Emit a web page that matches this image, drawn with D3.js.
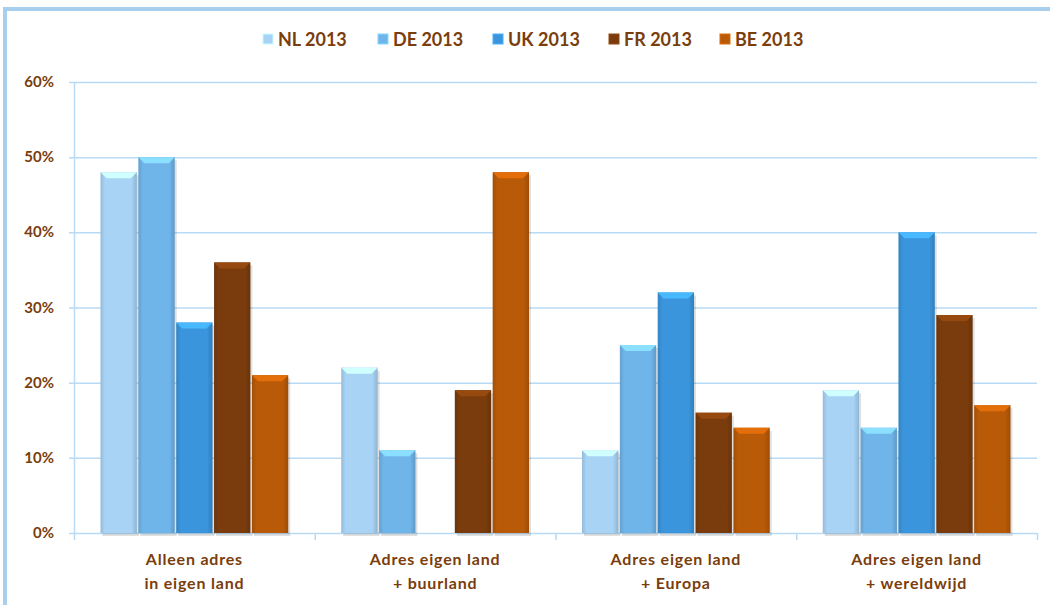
<!DOCTYPE html>
<html>
<head>
<meta charset="utf-8">
<script src="https://cdnjs.cloudflare.com/ajax/libs/d3/7.8.5/d3.min.js"></script>
<style>
	body { margin: 0; background: #fff; }
	text { font-family: Lato, "Open Sans", sans-serif; fill: #7a3d0c; }
	.tick-label { font-size: 15px; font-weight: bold; }
	.cat-label { font-size: 16px; font-weight: bold; letter-spacing: 0.8px; }
	.legend-label { font-size: 18px; font-weight: bold; }
</style>
</head>
<body>
<script>
// - data -

var categories = [
	['Alleen adres', 'in eigen land'],
	['Adres eigen land', '+ buurland'],
	['Adres eigen land', '+ Europa'],
	['Adres eigen land', '+ wereldwijd']
];
var seriesNames = ['NL 2013', 'DE 2013', 'UK 2013', 'FR 2013', 'BE 2013'];
var seriesColors = ['#a8d3f5', '#70b5ea', '#3a95dc', '#7a3c0c', '#b85a08'];

var nl = [48, 22, 11, 19];
var de = [50, 11, 25, 14];
var uk = [28, 0, 32, 40];
var fr = [36, 19, 16, 29];
var be = [21, 48, 14, 17];
var yTicks = [0, 10, 20, 30, 40, 50, 60];

var seriesValues = [nl, de, uk, fr, be];

// - setup -

var width = 1050;
var height = 605;

var margin = { top: 82, left: 74, bottom: 72, right: 13 };

var svg = d3.select('body').append('svg')
	.attr('width', width)
	.attr('height', height);

// frame round the chart
svg.append('rect')
	.attr('x', 3).attr('y', 7)
	.attr('width', width).attr('height', 4)
	.attr('fill', '#a9cfee');
svg.append('rect')
	.attr('x', 3).attr('y', 7)
	.attr('width', 4).attr('height', height)
	.attr('fill', '#a9cfee');

var x0 = d3.scaleBand()
	.domain(d3.range(categories.length))
	.range([margin.left, width - margin.right])
	.paddingInner(0)
	.paddingOuter(0);

var x1 = d3.scaleBand()
	.domain(d3.range(seriesNames.length))
	.range([0, x0.bandwidth()])
	.paddingOuter(0.7)
	.paddingInner(0.04);

var y = d3.scaleLinear()
	.domain([0, 60])
	.range([height - margin.bottom, margin.top]);

// - gridlines and axes -

svg.append('g')
	.selectAll('line')
	.data(yTicks).enter()
	.append('line')
		.attr('x1', margin.left - 5)
		.attr('x2', width - margin.right)
		.attr('y1', function(d) { return y(d) + .5; })
		.attr('y2', function(d) { return y(d) + .5; })
		.attr('stroke', '#b9daf4')
		.attr('stroke-width', 1.5);

svg.append('g')
	.selectAll('text')
	.data(yTicks).enter()
	.append('text')
		.attr('class', 'tick-label')
		.attr('x', 54)
		.attr('y', function(d) { return y(d) + 5; })
		.attr('text-anchor', 'end')
		.text(function(d) { return d + '%'; });

// y axis line
svg.append('line')
	.attr('x1', margin.left + .5).attr('x2', margin.left + .5)
	.attr('y1', y(60)).attr('y2', y(0) + 7)
	.attr('stroke', '#b9daf4')
	.attr('stroke-width', 1.5);

// category separators
svg.append('g')
	.selectAll('line')
	.data(d3.range(categories.length)).enter()
	.append('line')
		.attr('x1', function(d) { return x0(d) + x0.bandwidth() + .5; })
		.attr('x2', function(d) { return x0(d) + x0.bandwidth() + .5; })
		.attr('y1', y(0))
		.attr('y2', y(0) + 7)
		.attr('stroke', '#b9daf4')
		.attr('stroke-width', 1.5);

// - bars -

var defs = svg.append('defs');
seriesColors.forEach(function(c, i) {
	var grad = defs.append('linearGradient')
		.attr('id', 'grad' + i)
		.attr('x1', '0%').attr('x2', '100%');
	grad.append('stop').attr('offset', '0%').attr('stop-color', d3.color(c).darker(0.35));
	grad.append('stop').attr('offset', '12%').attr('stop-color', c);
	grad.append('stop').attr('offset', '85%').attr('stop-color', c);
	grad.append('stop').attr('offset', '100%').attr('stop-color', d3.color(c).darker(0.45));
});

var barData = [];
categories.forEach(function(c, ci) {
	seriesValues.forEach(function(vals, si) {
		barData.push({ cat: ci, series: si, value: vals[ci] });
	});
});
barData = barData.filter(function(d) { return d.value > 0; });

var gBars = svg.append('g');
var bw = x1.bandwidth();
var bevel = 6;

// shadow
gBars.selectAll('.bar-shadow')
	.data(barData).enter()
	.append('rect')
		.attr('class', 'bar-shadow')
		.attr('x', function(d) { return x0(d.cat) + x1(d.series) + 2; })
		.attr('y', function(d) { return y(d.value) + 3; })
		.attr('width', bw)
		.attr('height', function(d) { return y(0) - y(d.value); })
		.attr('fill', '#000')
		.attr('opacity', 0.12);

gBars.selectAll('.bar')
	.data(barData).enter()
	.append('rect')
		.attr('class', 'bar')
		.attr('x', function(d) { return x0(d.cat) + x1(d.series); })
		.attr('y', function(d) { return y(d.value); })
		.attr('width', bw)
		.attr('height', function(d) { return y(0) - y(d.value); })
		.attr('fill', function(d) { return 'url(#grad' + d.series + ')'; });

// bevel on top of each bar
gBars.selectAll('.bevel')
	.data(barData).enter()
	.append('polygon')
		.attr('class', 'bevel')
		.attr('points', function(d) {
			var bx = x0(d.cat) + x1(d.series);
			var by = y(d.value);
			return [[bx, by], [bx + bw, by], [bx + bw - bevel, by + bevel], [bx + bevel, by + bevel]].join(' ');
		})
		.attr('fill', function(d) { return d3.color(seriesColors[d.series]).brighter(0.6); });

// - category labels -

var gCat = svg.append('g');
categories.forEach(function(c, ci) {
	c.forEach(function(line, li) {
		gCat.append('text')
			.attr('class', 'cat-label')
			.attr('x', x0(ci) + x0.bandwidth() / 2)
			.attr('y', 565 + li * 24)
			.attr('text-anchor', 'middle')
			.text(line);
	});
});

// - legend -

var legendX = [263, 378, 493, 609, 720];
var gLeg = svg.append('g');
seriesNames.forEach(function(n, i) {
	gLeg.append('rect')
		.attr('x', legendX[i])
		.attr('y', 34)
		.attr('width', 10)
		.attr('height', 10)
		.attr('fill', seriesColors[i])
		.attr('stroke', d3.color(seriesColors[i]).brighter(0.5))
		.attr('stroke-width', 1);
	gLeg.append('text')
		.attr('class', 'legend-label')
		.attr('x', legendX[i] + 15)
		.attr('y', 46)
		.text(n);
});
</script>
</body>
</html>
